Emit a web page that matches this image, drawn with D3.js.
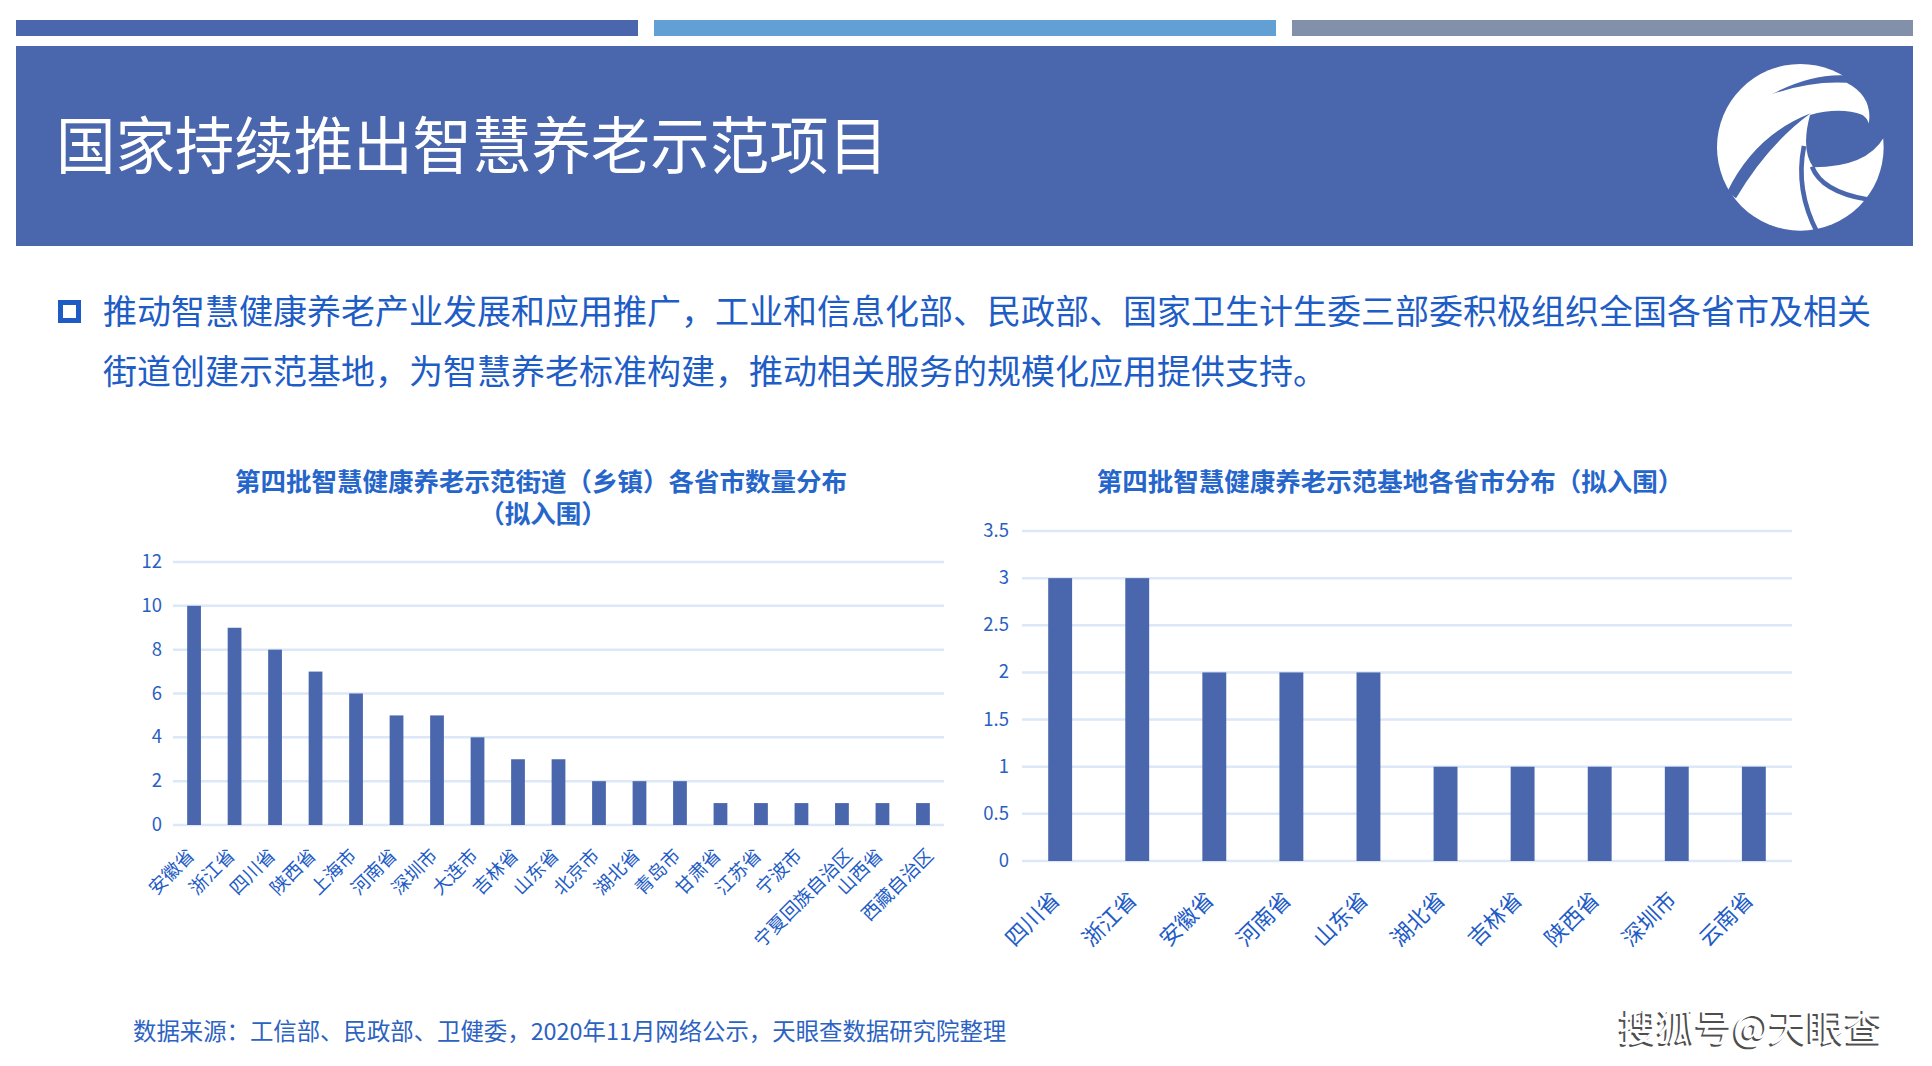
<!DOCTYPE html>
<html><head><meta charset="utf-8">
<script src="https://cdn.jsdelivr.net/npm/d3@7"></script>
<style>
html,body{margin:0;padding:0;background:#fff;}
svg{display:block;}
text{font-family:"Noto Sans CJK SC","Noto Sans",sans-serif;}
</style></head>
<body>
<svg id="c" width="1932" height="1066"></svg>
<script>
// ---- data ----
const pageTitle = "国家持续推出智慧养老示范项目";
const bulletLines = [
  "推动智慧健康养老产业发展和应用推广，工业和信息化部、民政部、国家卫生计生委三部委积极组织全国各省市及相关",
  "街道创建示范基地，为智慧养老标准构建，推动相关服务的规模化应用提供支持。"
];
const chart1Title = ["第四批智慧健康养老示范街道（乡镇）各省市数量分布", "（拟入围）"];
const cats1 = ["安徽省","浙江省","四川省","陕西省","上海市","河南省","深圳市","大连市","吉林省","山东省","北京市","湖北省","青岛市","甘肃省","江苏省","宁波市","宁夏回族自治区","山西省","西藏自治区"];
const vals1 = [10,9,8,7,6,5,5,4,3,3,2,2,2,1,1,1,1,1,1];
const ticks1 = [0,2,4,6,8,10,12];
const chart2Title = "第四批智慧健康养老示范基地各省市分布（拟入围）";
const cats2 = ["四川省","浙江省","安徽省","河南省","山东省","湖北省","吉林省","陕西省","深圳市","云南省"];
const vals2 = [3,3,2,2,2,1,1,1,1,1];
const ticks2 = [0,0.5,1,1.5,2,2.5,3,3.5];
const footnote = "数据来源：工信部、民政部、卫健委，2020年11月网络公示，天眼查数据研究院整理";
const watermark = "搜狐号@天眼查";

// ---- styles ----
const HEAD = "#4A67AD", LIGHT = "#619FD4", GREYB = "#8290A9";
const BAR = "#4A67AD", GRID = "#DCE7F8";
const TXT = "#1E5CC6", TTL = "#2666CB", TICK = "#2A60C2";

const svg = d3.select("#c");

// top strips
[[16,638,HEAD],[654,1276,LIGHT],[1292,1913,GREYB]].forEach(([a,b,c])=>{
  svg.append("rect").attr("x",a).attr("y",20).attr("width",b-a).attr("height",16).attr("fill",c);
});
// header band
svg.append("rect").attr("x",16).attr("y",46).attr("width",1897).attr("height",200).attr("fill",HEAD);
svg.append("text").attr("x",56).attr("y",142).attr("dominant-baseline","central")
  .attr("fill","#fff").attr("font-size",62).attr("textLength",832).attr("lengthAdjust","spacingAndGlyphs")
  .text(pageTitle);

// logo
const logo = svg.append("g").attr("transform","translate(1680,50) scale(0.3333)");
logo.append("circle").attr("cx",361).attr("cy",292).attr("r",250).attr("fill","#fff");
logo.append("path").attr("fill",HEAD)
  .attr("d","M275,133 Q390,72 492,76 A250,250 0 0,1 612,262 Q560,352 400,352 Q362,300 390,195 Q480,170 548,195 Q580,220 560,252 Q592,145 500,98 Q390,92 275,133 Z");
logo.append("path").attr("fill",HEAD)
  .attr("d","M142,425 Q225,255 392,190 Q262,285 168,445 Z");
logo.append("path").attr("fill","none").attr("stroke",HEAD).attr("stroke-width",14)
  .attr("d","M372,288 Q345,420 412,548");
logo.append("path").attr("fill","none").attr("stroke",HEAD).attr("stroke-width",14)
  .attr("d","M396,350 Q425,425 560,448");

// bullet
svg.append("rect").attr("x",60.5).attr("y",302.5).attr("width",18).attr("height",18)
  .attr("fill","none").attr("stroke","#1F5BC4").attr("stroke-width",5);
bulletLines.forEach((t,i)=>{
  svg.append("text").attr("x",103).attr("y",309+i*60).attr("dominant-baseline","central")
    .attr("fill",TXT).attr("font-size",34).text(t);
});

// ---- generic bar chart ----
function barChart(o){
  const g = svg.append("g");
  const x = d3.scaleBand().domain(o.cats).range(o.xr).paddingInner(o.pi).paddingOuter(o.po);
  const y = d3.scaleLinear().domain([0, d3.max(o.ticks)]).range(o.yr);
  // grid
  g.selectAll(".grid").data(o.ticks).join("line")
    .attr("x1",o.xr[0]).attr("x2",o.xr[1])
    .attr("y1",d=>y(d)).attr("y2",d=>y(d))
    .attr("stroke",GRID).attr("stroke-width",2.5);
  // y axis labels
  const ya = d3.axisLeft(y).tickValues(o.ticks).tickSize(0).tickPadding(0).tickFormat(d3.format("~g"));
  const yg = g.append("g").attr("transform",`translate(${o.tickX},-2.5)`).call(ya);
  yg.select(".domain").remove();
  yg.selectAll("text").attr("fill",TICK).attr("font-size",18.5)
    .attr("font-family","'Noto Sans CJK SC','Noto Sans',sans-serif").attr("dy",null).attr("dominant-baseline","central");
  // bars
  g.selectAll(".bar").data(o.vals).join("rect")
    .attr("x",(d,i)=>x(o.cats[i])).attr("width",x.bandwidth())
    .attr("y",d=>y(d)).attr("height",d=>y(0)-y(d)).attr("fill",BAR);
  // x labels
  const xa = d3.axisBottom(x).tickSize(0).tickPadding(0);
  const xg = g.append("g").attr("transform",`translate(0,${o.yr[0]})`).call(xa);
  xg.select(".domain").remove();
  xg.selectAll("text")
    .attr("fill",TXT).attr("font-size",o.lblSize)
    .attr("font-family","'Noto Sans CJK SC',sans-serif")
    .attr("text-anchor","end").attr("dy",null).attr("y",null)
    .attr("dominant-baseline","central")
    .attr("transform",d=>`translate(${o.lblDx(d.length)},${o.lblDy}) rotate(-45)`);
  return {x,y};
}

barChart({cats:cats1, vals:vals1, ticks:ticks1, xr:[173,944], yr:[825,562], pi:0.66, po:0.35,
  tickX:162, lblSize:18.5, lblDy:26,
  lblDx:n=>-4 + Math.min(Math.max(n-3,0),2)*5});
barChart({cats:cats2, vals:vals2, ticks:ticks2, xr:[1022,1792], yr:[861,531], pi:0.69, po:0.34,
  tickX:1009, lblSize:22, lblDy:33, lblDx:n=>-6});

// chart titles (two-line title as one text element)
const t1 = svg.append("text").attr("text-anchor","middle").attr("dominant-baseline","central")
  .attr("fill",TTL).attr("font-size",25.5).attr("font-weight",700);
t1.append("tspan").attr("x",541).attr("y",478.5).text(chart1Title[0]);
t1.append("tspan").attr("x",543).attr("y",511).text(chart1Title[1]);
svg.append("text").attr("x",1390).attr("y",479).attr("text-anchor","middle").attr("dominant-baseline","central")
  .attr("fill",TTL).attr("font-size",25.5).attr("font-weight",700).text(chart2Title);

// footnote
svg.append("text").attr("x",133).attr("y",1030).attr("dominant-baseline","central")
  .attr("fill","#2C62C2").attr("font-size",23.4).text(footnote);

// watermark
svg.append("text").attr("x",1617).attr("y",1026).attr("dominant-baseline","central")
  .attr("fill","#222").attr("font-size",38).attr("opacity",0.8).text(watermark);
svg.append("text").attr("x",1619).attr("y",1024.5).attr("dominant-baseline","central")
  .attr("fill","#fff").attr("font-size",38).text(watermark);
</script>
</body></html>
